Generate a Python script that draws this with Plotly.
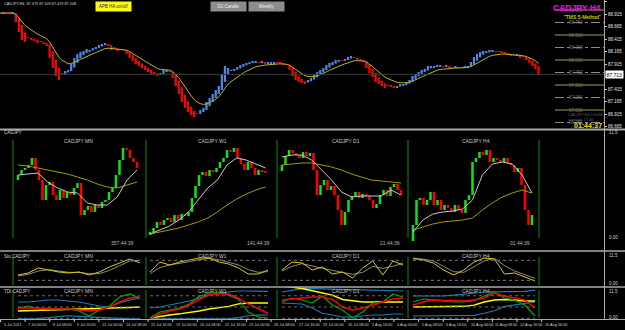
import numpy as np
import plotly.graph_objects as go

W, H = 625, 330
FONT = "Liberation Sans"

# ---------------- main H4 Heiken-Ashi chart ----------------
main_close = [
    88.94, 88.96, 88.94, 88.92, 88.94,
    88.76, 88.56, 88.40,
    88.36, 88.44, 88.40, 88.38,
    88.34, 88.36, 88.32, 88.28,
    88.04, 87.84, 87.68, 87.60,
    87.72, 87.78, 87.80,
    87.92, 88.04, 88.12, 88.16,
    88.18, 88.22, 88.20, 88.24, 88.26,
    88.30, 88.32, 88.34, 88.28,
    88.20, 88.22, 88.18, 88.20, 88.20, 88.12,
    88.04, 87.98, 87.92, 87.88, 87.84, 87.80, 87.76,
    87.72, 87.70, 87.68, 87.74, 87.80, 87.78, 87.76,
    87.64, 87.48, 87.32, 87.16, 87.04, 86.96,
    86.90, 86.86, 86.92, 87.00,
    87.04, 87.16, 87.24, 87.32, 87.40, 87.48, 87.72, 87.88,
    87.84, 87.80, 87.82, 87.86, 87.90, 87.92,
    87.94, 87.96, 87.98, 87.96, 87.94, 87.96, 87.92,
    87.94, 87.94, 87.96, 87.94, 87.92, 87.90, 87.90,
    87.80, 87.68, 87.60, 87.56,
    87.54, 87.52, 87.60,
    87.64, 87.70, 87.76, 87.80, 87.84,
    87.90, 87.94, 87.96, 88.00, 88.00, 87.98, 88.02,
    88.06, 88.08, 88.04, 88.00, 87.98, 87.96,
    87.84, 87.74, 87.66,
    87.56, 87.52, 87.48, 87.44, 87.48, 87.46, 87.44,
    87.48, 87.52, 87.50, 87.56, 87.60,
    87.68, 87.72, 87.76, 87.80, 87.82,
    87.88, 87.88, 87.86, 87.90, 87.88, 87.86, 87.88,
    87.84, 87.84, 87.86, 87.84, 87.84, 87.86, 87.88,
    87.96, 88.06, 88.12,
    88.16, 88.18, 88.16, 88.20, 88.18, 88.16, 88.16,
    88.14, 88.12, 88.10, 88.08, 88.08, 88.10,
    88.04, 88.06, 88.00, 87.94, 87.88, 87.82, 87.713,
]
main_open0 = 88.92
main_ma_period = 10
price_ticks = [89.165, 88.915, 88.665, 88.415, 88.165, 87.915,
               87.665, 87.415, 87.165, 86.915, 86.665]
level_prices = [89.00, 88.75, 88.50, 88.25, 88.00, 87.75, 87.50, 87.25, 87.00, 86.75]
date_labels = ["5 Jul 2021", "7 Jul 00:00", "8 Jul 08:00", "9 Jul 16:00", "13 Jul 00:00",
               "14 Jul 08:00", "15 Jul 16:00", "19 Jul 00:00", "20 Jul 08:00", "21 Jul 16:00",
               "23 Jul 00:00", "26 Jul 08:00", "27 Jul 16:00", "29 Jul 00:00", "30 Jul 08:00",
               "2 Aug 16:00", "4 Aug 00:00", "5 Aug 08:00", "6 Aug 16:00", "10 Aug 00:00",
               "11 Aug 08:00", "12 Aug 16:00", "16 Aug 00:00"]
ohlc_text = "CADJPY,H4  87.479 87.509 87.479 87.508"

# ---------------- multi-timeframe panel ----------------
tf_names = ["MN", "W1", "D1", "H4"]
countdowns = ["357:44:39", "141:44:39", "21:44:39", "01:44:39"]

mn_close = [87.6, 88.1, 88.3, 88.6, 89.3, 88.1, 87.1, 85.1, 86.6, 86.9,
            85.6, 85.1, 86.1, 85.3, 85.9, 85.6, 86.3, 86.8, 83.6, 84.1,
            84.5, 83.9, 84.6, 84.3, 84.9, 85.1, 85.9, 86.3, 87.6, 89.1,
            90.3, 90.1, 89.3, 88.9, 88.3]
w1_close = [84.95, 85.15, 85.45, 85.30, 85.55, 85.65, 85.45, 85.80, 85.55, 85.85,
            85.75, 85.95, 86.65, 87.25, 87.80, 87.95, 87.75, 88.05, 87.95, 88.15,
            88.45, 88.65, 89.05, 88.95, 89.15, 88.65, 88.35, 88.05, 88.45, 88.15,
            87.80, 88.05, 87.95, 87.90]
d1_close = [88.82, 89.00, 89.12, 89.06, 89.02, 88.96, 89.08, 89.00, 89.06, 88.72,
            88.22, 88.42, 88.52, 88.32, 88.40, 88.22, 87.92, 87.62, 87.88, 88.12,
            88.20, 88.28, 88.16, 88.24, 88.20, 88.12, 87.96, 88.04, 88.22, 88.32,
            88.20, 88.38, 88.44, 88.32, 88.22]
h4_close = [87.66, 87.91, 87.93, 87.86, 87.91, 87.99, 87.86, 87.91, 87.81, 87.86,
            87.83, 87.79, 87.86, 87.81, 87.78, 87.91, 87.96, 88.29, 88.33, 88.39,
            88.36, 88.41, 88.29, 88.33, 88.31, 88.29, 88.33, 88.28, 88.26, 88.19,
            88.23, 88.06, 87.81, 87.66, 87.76]
sub_open0 = [87.1, 84.80, 88.70, 87.50]

mn_fast = [87.6, 87.7, 87.8, 86.9, 86.3, 85.9, 85.8, 84.8, 84.6, 84.6, 85.4, 87.1, 88.1]
mn_slow = [88.6, 88.5, 88.3, 88.1, 87.9, 87.7, 87.4, 87.1, 86.7, 86.4, 86.3, 86.6, 86.9]
w1_fast = [84.85, 85.05, 85.25, 85.55, 85.95, 86.55, 87.15, 87.55, 88.30, 88.65, 88.55, 88.35, 88.15]
w1_slow = [84.85, 84.95, 85.05, 85.15, 85.30, 85.45, 85.65, 85.95, 86.30, 86.60, 86.85, 87.05, 87.20]
d1_fast = [88.98, 89.02, 89.02, 88.92, 88.72, 88.52, 88.28, 88.18, 88.20, 88.20, 88.20, 88.32, 88.22]
d1_slow = [88.82, 88.84, 88.86, 88.86, 88.82, 88.78, 88.72, 88.64, 88.58, 88.52, 88.50, 88.48, 88.46]
h4_fast = [87.59, 87.71, 87.77, 87.79, 87.80, 87.82, 87.91, 88.16, 88.27, 88.29, 88.27, 88.16, 87.98]
h4_slow = [87.61, 87.64, 87.67, 87.69, 87.70, 87.71, 87.73, 87.81, 87.88, 87.94, 87.98, 88.01, 87.98]

# ---------------- Stochastic panel ----------------
sto_main = [
    [36, 42, 57, 51, 45, 42, 45, 36, 45, 60, 72, 84, 72],
    [45, 75, 66, 75, 81, 87, 87, 75, 69, 57, 39, 39, 51],
    [51, 75, 72, 51, 60, 39, 45, 27, 57, 78, 36, 78, 66],
    [87, 81, 72, 51, 36, 51, 75, 87, 84, 39, 42, 30, 18],
]
sto_signal = [
    [33, 38, 48, 52, 48, 44, 44, 40, 40, 50, 64, 78, 80],
    [40, 58, 66, 70, 76, 82, 86, 82, 75, 66, 52, 44, 46],
    [48, 62, 70, 62, 56, 50, 44, 38, 44, 62, 56, 62, 72],
    [84, 84, 78, 62, 46, 44, 60, 78, 86, 64, 48, 38, 26],
]
sto_levels = [80, 20]

# ---------------- TDI panel ----------------
tdi_upper = [
    [58, 58, 59.6, 61.2, 61.2, 59.6, 58, 54.8, 51.6, 50, 56.4, 61.2, 64.4],
    [48.4, 50, 53.2, 56.4, 59.6, 64.4, 69.2, 72.4, 74, 75.6, 75.6, 75.6, 75],
    [74, 77, 79.5, 79.5, 79, 79, 78, 77.2, 77.2, 76, 75.6, 75.6, 75.6],
    [67.6, 67.6, 67.6, 67.6, 69, 70, 72, 74, 74, 74, 74, 75, 77],
]
tdi_lower = [
    [31, 31, 31.5, 33, 35, 36, 35, 34, 33, 32, 31.5, 31, 31],
    [31, 31, 31, 31, 31.5, 31, 31, 31, 31, 33, 36, 37, 37.2],
    [56.4, 56, 54.8, 48.4, 40, 37.2, 34, 34, 35.6, 37.2, 37.2, 38.8, 38.8],
    [35.6, 35.6, 35.6, 35.6, 35.6, 36, 36.5, 40, 44, 51, 53.2, 56, 58],
]
tdi_green = [
    [48.4, 51.6, 46.8, 48.4, 46.8, 46.8, 43.6, 35.6, 45.2, 51.6, 66, 70.8, 64.4],
    [32.4, 42, 45.2, 48.4, 54.8, 67, 72, 74, 69.2, 62, 42, 34, 32.4],
    [58, 64.4, 61.2, 56.4, 67.6, 53.2, 45.2, 32.4, 42, 56.4, 58, 70.8, 66],
    [58, 62.8, 61, 59.6, 58, 58, 60, 67.6, 74, 64.4, 61.2, 53.2, 35.6],
]
tdi_red = [
    [48.4, 48.4, 48.4, 46.8, 46.8, 46.8, 45.2, 43.6, 45.2, 50, 58, 64.4, 66],
    [31, 38.8, 43.6, 46.8, 53.2, 62, 69.2, 70.8, 70.8, 64, 55, 47, 40],
    [61.2, 62.8, 64.4, 66, 66, 62, 50, 45.2, 48.4, 53.2, 58, 62.8, 64.4],
    [53.2, 58, 61.2, 61.2, 60, 59.6, 61, 64.4, 72.4, 67.6, 64.4, 61.2, 48.4],
]
tdi_yellow = [
    [43.6, 44, 44.4, 45, 45.6, 46, 46.4, 47, 47.6, 48, 48.6, 49.2, 50],
    [32.4, 35, 37.2, 39, 41, 43.6, 46.8, 49, 51, 55, 56.4, 56.4, 56.4],
    [84, 82, 79.5, 76, 72.4, 69, 62, 59.6, 58, 58, 58, 58, 58],
    [50, 50, 50, 50, 50.5, 51, 53, 58, 61, 62, 61.2, 59.6, 59.6],
]
tdi_levels = [68, 50, 32]

# ---------------- layout geometry (pixels) ----------------
q_dom = [(13, 146), (146, 277), (277, 408), (408, 539)]
q_first = [18, 150, 282, 413]
q_last = [140, 268, 403, 535]
q_step = 3.5
sub_range = [[80.3, 91.8], [84.15, 89.9], [87.16, 89.46], [87.43, 88.58]]
q_title_x = [78, 212, 346, 476]
q_count_x = [122, 258, 390, 520]


def fx(px):
    return px / W


def fy(py):
    return 1 - py / H


def ema(vals, n):
    a = 2.0 / (n + 1)
    out = [vals[0]]
    for v in vals[1:]:
        out.append(out[-1] + a * (v - out[-1]))
    return out


fig = go.Figure()


def add_bars(opens, close, xa, ya, up, down, minh):
    base = [min(o, c) for o, c in zip(opens, close)]
    hgt = [max(abs(c - o), minh) for o, c in zip(opens, close)]
    col = [up if c >= o else down for o, c in zip(opens, close)]
    fig.add_trace(go.Bar(x=list(range(len(close))), y=hgt, base=base,
                         marker=dict(color=col, line=dict(width=0)), width=0.72,
                         xaxis=xa, yaxis=ya, hoverinfo="skip", showlegend=False))


# main Heiken-Ashi candles (HA open = mean of previous HA open and close) + MA
ha_open = [main_open0]
for i in range(1, len(main_close)):
    ha_open.append((ha_open[-1] + main_close[i - 1]) / 2)
add_bars(ha_open, main_close, "x", "y", "#4F86E8", "#FF0000", 0.02)
fig.add_trace(go.Scatter(x=list(range(len(main_close))), y=ema(main_close, main_ma_period),
                         mode="lines", line=dict(color="#BDB426", width=1),
                         xaxis="x", yaxis="y", hoverinfo="skip", showlegend=False))

# sub-chart candles + MAs
sub_close = [mn_close, w1_close, d1_close, h4_close]
sub_fast = [mn_fast, w1_fast, d1_fast, h4_fast]
sub_slow = [mn_slow, w1_slow, d1_slow, h4_slow]
for q in range(4):
    xa, ya = f"x{q + 2}", f"y{q + 2}"
    rng = sub_range[q][1] - sub_range[q][0]
    opens = [sub_open0[q]] + list(sub_close[q][:-1])
    add_bars(opens, sub_close[q], xa, ya, "#14E014", "#FF0000", rng * 0.01)
    n = len(sub_close[q])
    xs_ma = np.linspace(0, n - 1, 13)
    fig.add_trace(go.Scatter(x=xs_ma, y=sub_slow[q], mode="lines", line=dict(color="#A39C00", width=1),
                             xaxis=xa, yaxis=ya, hoverinfo="skip", showlegend=False))
    fig.add_trace(go.Scatter(x=xs_ma, y=sub_fast[q], mode="lines", line=dict(color="#C8C8C8", width=1),
                             xaxis=xa, yaxis=ya, hoverinfo="skip", showlegend=False))

shapes = []
# stochastic + TDI lines
for q in range(4):
    xa = f"x{q + 2}"
    xs = np.linspace(0, (q_last[q] - q_first[q]) / q_step, 13)
    for lv in sto_levels:
        shapes.append(dict(type="line", xref=xa, yref="y6", x0=xs[0], x1=xs[-1], y0=lv, y1=lv,
                           line=dict(color="#7A7A7A", width=1, dash="dot")))
    for lv in tdi_levels:
        shapes.append(dict(type="line", xref=xa, yref="y7", x0=xs[0], x1=xs[-1], y0=lv, y1=lv,
                           line=dict(color="#6A6A6A", width=1, dash="dot")))
    fig.add_trace(go.Scatter(x=xs, y=sto_signal[q], mode="lines", line=dict(color="#8A8A8A", width=1),
                             xaxis=xa, yaxis="y6", hoverinfo="skip", showlegend=False))
    fig.add_trace(go.Scatter(x=xs, y=sto_main[q], mode="lines", line=dict(color="#D8CC10", width=1),
                             xaxis=xa, yaxis="y6", hoverinfo="skip", showlegend=False))
    for vals, colr, wd in [(tdi_upper[q], "#1C7CB8", 1.2), (tdi_lower[q], "#1C7CB8", 1.2),
                           (tdi_yellow[q], "#FFFF00", 1.5), (tdi_green[q], "#00A800", 1.2),
                           (tdi_red[q], "#FF0000", 1.5)]:
        fig.add_trace(go.Scatter(x=xs, y=vals, mode="lines", line=dict(color=colr, width=wd),
                                 xaxis=xa, yaxis="y7", hoverinfo="skip", showlegend=False))

# ---------------- layout ----------------
hidden = dict(visible=False, showgrid=False, zeroline=False, fixedrange=True)
layout = dict(width=W, height=H, margin=dict(l=0, r=0, t=0, b=0),
              paper_bgcolor="black", plot_bgcolor="black", showlegend=False,
              barmode="overlay", font=dict(family=FONT, size=5, color="#D8D8D8"))
layout["xaxis"] = dict(hidden, domain=[0, fx(604)], range=[-0.163, 196.3], anchor="y")
layout["yaxis"] = dict(domain=[fy(128), 1], range=[86.64, 89.2], side="right", anchor="x",
                       tickvals=price_ticks, ticktext=[f"{v:.3f}" for v in price_ticks],
                       tickfont=dict(size=4.5, color="#E8E8E8", family=FONT), ticks="outside",
                       ticklen=2, tickcolor="#C8C8C8", showgrid=False, zeroline=False,
                       showline=False, fixedrange=True)
for q in range(4):
    d0, d1 = q_dom[q]
    layout[f"xaxis{q + 2}"] = dict(hidden, domain=[fx(d0), fx(d1)],
                                   range=[(d0 - q_first[q]) / q_step, (d1 - q_first[q]) / q_step],
                                   anchor=f"y{q + 2}")
    layout[f"yaxis{q + 2}"] = dict(hidden, domain=[fy(248), fy(133)], range=sub_range[q],
                                   anchor=f"x{q + 2}")
layout["yaxis6"] = dict(hidden, domain=[fy(286), fy(253)], range=[3, 102], anchor="x2")
layout["yaxis7"] = dict(hidden, domain=[fy(319), fy(287)], range=[30.8, 82], anchor="x2")

# separators / frames
sep = "#A8A8A8"
for py, wd in [(129.5, 2), (251, 1.5), (287, 1.5), (319.5, 1)]:
    shapes.append(dict(type="line", xref="paper", yref="paper", x0=0, x1=1, y0=fy(py), y1=fy(py),
                       line=dict(color=sep, width=wd)))
shapes.append(dict(type="line", xref="paper", yref="paper", x0=fx(604.5), x1=fx(604.5),
                   y0=fy(0), y1=fy(319.5), line=dict(color=sep, width=1)))
# green timeframe separators
for gx in [13, 146, 277, 408, 539]:
    for (a, b) in [(140, 238), (257, 285), (290, 318)]:
        shapes.append(dict(type="line", xref="paper", yref="paper", x0=fx(gx), x1=fx(gx),
                           y0=fy(a), y1=fy(b), line=dict(color="#0E8C0E", width=1)))
# current price line
shapes.append(dict(type="line", xref="paper", yref="y", x0=0, x1=fx(604), y0=main_close[-1],
                   y1=main_close[-1], line=dict(color="#3C3C3C", width=1)))
# level lines
for k, lv in enumerate(level_prices):
    if k % 2 == 0:
        ln = dict(color="#A39E4A", width=1)
    else:
        ln = dict(color="#8C8C8C", width=1, dash="dashdot")
    shapes.append(dict(type="line", xref="paper", yref="y", x0=fx(555), x1=fx(604), y0=lv, y1=lv, line=ln))
# date ticks
for k in range(len(date_labels)):
    shapes.append(dict(type="line", xref="x", yref="paper", x0=8 * k, x1=8 * k, y0=fy(319.5), y1=fy(322),
                       line=dict(color="#C8C8C8", width=1)))
layout["shapes"] = shapes

ann = []


def txt(px, py, s, size=5, color="#D8D8D8", xanchor="left", **kw):
    d = dict(x=fx(px), y=fy(py), xref="paper", yref="paper", text=s, showarrow=False,
             xanchor=xanchor, yanchor="middle", font=dict(size=size, color=color, family=FONT))
    d.update(kw)
    ann.append(d)


txt(2, 4, ohlc_text, size=3.8)
txt(113.5, 6, "APB HA on/off", size=4.5, color="#1414A0", xanchor="center", bgcolor="#FFFF00",
    width=33, height=6.5)
txt(228.5, 6, "D1 Candle", size=4.5, color="#F0F0F0", xanchor="center", bgcolor="#8C8C8C", width=33, height=7)
txt(266.5, 6, "Weekly", size=4.5, color="#F0F0F0", xanchor="center", bgcolor="#8C8C8C", width=33, height=7)
txt(603, 8, "<b>CADJPY H4</b>", size=8.5, color="#FF00FF", xanchor="right")
txt(603, 17, "\"TMS 5-Method\"", size=5, color="#FFFF00", xanchor="right")
for lv in level_prices:
    ann.append(dict(x=fx(576), y=lv, xref="paper", yref="y", text=f"{lv:.3f}", showarrow=False,
                    xanchor="center", yanchor="middle", font=dict(size=4.5, color="#6E6E6E", family=FONT)))
txt(566, 114, "CADJPY,H4 0.0018", size=4, color="#5A5A5A")
txt(566, 119, "average 17.80", size=4, color="#5A5A5A")
txt(604, 125.5, "<b>01:44:37</b>", size=7, color="#E8E800", xanchor="right")
ann.append(dict(x=fx(614.5), y=main_close[-1], xref="paper", yref="y", text=f"{main_close[-1]:.3f}",
                showarrow=False, xanchor="center", yanchor="middle", bgcolor="#FFFFFF", borderpad=0.5,
                font=dict(size=5, color="#000000", family=FONT)))

# panel texts
txt(2, 132, "CADJPY", size=4.5)
txt(2, 256, "Sto CADJPY", size=4.5)
txt(2, 291, "TDI CADJPY", size=4.5)
for q in range(4):
    title = f"CADJPY {tf_names[q]}"
    txt(q_title_x[q], 141, title, size=5, color="#C8C8C8", xanchor="center")
    txt(q_title_x[q], 256, title, size=5, color="#C8C8C8", xanchor="center")
    txt(q_title_x[q], 291, title, size=5, color="#C8C8C8", xanchor="center")
    txt(q_count_x[q], 243, countdowns[q], size=5, color="#B8B8B8", xanchor="center")
for py, s in [(132, "11.5"), (237, "0.00"), (255, "11.5"), (283, "0.00"), (291, "11.5"), (317, "0.00")]:
    txt(607, py, s, size=4.5, color="#D0D0D0")

# dates
for k, lab in enumerate(date_labels):
    ann.append(dict(x=8 * k, y=fy(325), xref="x", yref="paper", text=lab, showarrow=False,
                    xanchor="left", yanchor="middle", xshift=1,
                    font=dict(size=3.8, color="#D0D0D0", family=FONT)))
layout["annotations"] = ann

fig.update_layout(layout)
fig.write_html("out.html", config={"displayModeBar": False})
